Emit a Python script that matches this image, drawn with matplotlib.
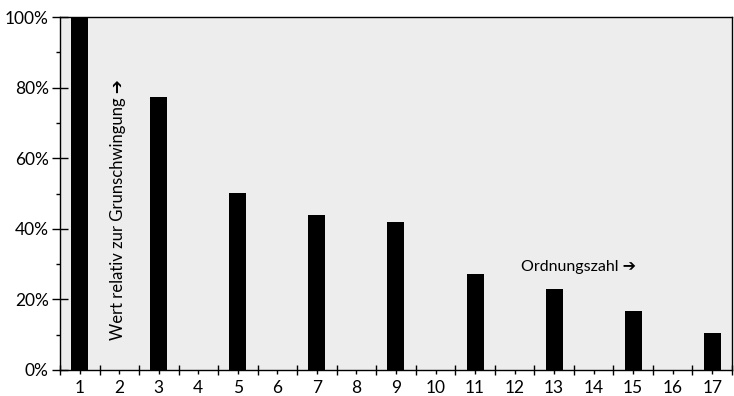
import matplotlib
matplotlib.use("Agg")
import matplotlib.pyplot as plt
from matplotlib.ticker import MultipleLocator, FixedLocator, FuncFormatter

# Oberschwingungen (Ordnungszahl) und Wert relativ zur Grundschwingung in %
ordnung = [1, 3, 5, 7, 9, 11, 13, 15, 17]
wert = [100, 77.3, 50.1, 44.0, 41.9, 27.2, 22.9, 16.7, 10.5]
xlabels = [str(i) for i in range(1, 18)]

plt.rcParams["font.family"] = ["Lato", "DejaVu Sans"]

fig = plt.figure(figsize=(7.34, 3.96), dpi=100)
ax = fig.add_axes([0.0817, 0.0657, 0.9156, 0.8913])
ax.set_facecolor("#ededed")

ax.bar(ordnung, wert, width=0.43, color="black", zorder=3)

ax.set_xlim(0.5, 17.5)
ax.set_ylim(0, 100)

# X-Achse: Haupt-Ticks zwischen den Kategorien, kurze Ticks an den Kategorien
ax.xaxis.set_major_locator(FixedLocator([i + 0.5 for i in range(0, 18)]))
ax.xaxis.set_minor_locator(FixedLocator(range(1, 18)))
ax.xaxis.set_major_formatter(FuncFormatter(lambda v, p: ""))
ax.xaxis.set_minor_formatter(FuncFormatter(lambda v, p: xlabels[int(round(v)) - 1]))
ax.tick_params(axis="x", which="major", direction="inout", length=7, width=1)
ax.tick_params(axis="x", which="minor", direction="out", length=3, width=1,
               labelsize=12.5, pad=4)

# Y-Achse
ax.yaxis.set_major_locator(MultipleLocator(20))
ax.yaxis.set_minor_locator(MultipleLocator(10))
ax.yaxis.set_major_formatter(FuncFormatter(lambda v, p: "{:.0f}%".format(v)))
ax.tick_params(axis="y", which="major", direction="inout", length=12, width=1,
               labelsize=12.5, pad=2)
ax.tick_params(axis="y", which="minor", direction="out", length=3, width=1)

for s in ax.spines.values():
    s.set_linewidth(1)

ax.text(1.97, 8.5, "Wert relativ zur Grunschwingung \u2794", rotation=90,
        ha="center", va="bottom", fontsize=12)
ax.text(12.15, 29.2, "Ordnungszahl \u2794", ha="left", va="center", fontsize=11.5)

fig.savefig("out.png", dpi=100)
